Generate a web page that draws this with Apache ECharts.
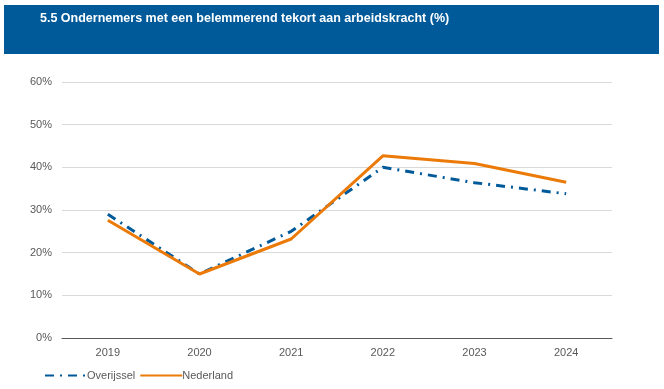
<!DOCTYPE html>
<html><head><meta charset="utf-8">
<script src="https://cdn.jsdelivr.net/npm/echarts@6/dist/echarts.min.js"></script>
<style>html,body{margin:0;padding:0;background:#fff;}#c{width:664px;height:389px;}</style>
</head><body><div id="c"></div>
<script>
const titleText = '5.5 Ondernemers met een belemmerend tekort aan arbeidskracht (%)';
const years = ['2019','2020','2021','2022','2023','2024'];
const overijssel = [29, 15, 25, 40, 36.4, 33.8];
const nederland = [27.6, 15, 23.2, 42.7, 40.9, 36.5];
const yTicks = [0, 10, 20, 30, 40, 50, 60];

const chart = echarts.init(document.getElementById('c'));
chart.setOption({
  backgroundColor: '#fff',
  animation: false,
  graphic: [
    {type:'rect', shape:{x:4,y:5,width:655,height:49}, style:{fill:'#005a9a'}},
    {type:'text', x:40, y:12,
     style:{text:titleText, fill:'#fff', font:'bold 12.5px "Liberation Sans", Arial', verticalAlign:'top'}}
  ],
  grid: {left:62, right:52, top:82, bottom:51},
  legend: {
    orient:'horizontal', left: 39, top: 365, itemWidth: 42, itemHeight: 10, itemGap: 4,
    itemStyle:{opacity:0},
    textStyle:{color:'#595959', fontSize:11, fontFamily:'Liberation Sans, Arial', padding:[0,0,0,-5]},
    data: ['Overijssel', 'Nederland']
  },
  xAxis: {
    type:'category', data: years, boundaryGap:true,
    axisLine:{lineStyle:{color:'#595959', width:1}},
    axisTick:{inside:true, alignWithLabel:true, length:3, lineStyle:{color:'#595959'}},
    axisLabel:{color:'#595959', fontSize:11, fontFamily:'Liberation Sans, Arial', margin:9}
  },
  yAxis: {
    type:'value', min: yTicks[0], max: yTicks[yTicks.length-1], interval:10,
    axisLine:{show:false}, axisTick:{show:false},
    splitLine:{lineStyle:{color:'#d9d9d9', width:1}},
    axisLabel:{color:'#595959', fontSize:11, fontFamily:'Liberation Sans, Arial', formatter:'{value}%', margin:10}
  },
  series: [
    {name:'Overijssel', type:'line', data: overijssel, symbol:'none', smooth:false,
     lineStyle:{color:'#005a9a', width:3, type:[9,6,2,6], cap:'butt'}, itemStyle:{color:'#005a9a'}},
    {name:'Nederland', type:'line', data: nederland, symbol:'none',
     lineStyle:{color:'#ec7a08', width:3}, itemStyle:{color:'#ec7a08'}}
  ]
});
</script></body></html>
